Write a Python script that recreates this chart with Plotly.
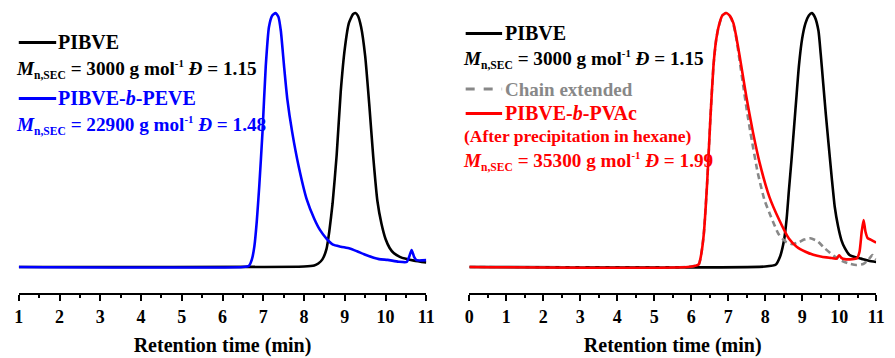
import plotly.graph_objects as go

# ---------------- data (normalised SEC traces) ----------------
# Left panel
left_black_t = [1.0, 8.0, 8.25, 8.35, 8.45, 8.55, 8.62, 8.70, 8.80, 8.90, 9.00, 9.10, 9.20, 9.26, 9.32, 9.40,
                9.50, 9.60, 9.70, 9.80, 9.90, 10.00, 10.10, 10.20, 10.35, 10.50, 10.70, 11.0]
left_black_h = [0.0, 0.002, 0.006, 0.014, 0.03, 0.07, 0.14, 0.25, 0.44, 0.69, 0.86, 0.96, 0.995, 1.0, 0.99, 0.945,
                0.83, 0.64, 0.43, 0.26, 0.17, 0.11, 0.075, 0.055, 0.04, 0.032, 0.025, 0.018]

left_blue_t = [1.0, 6.5, 6.65, 6.72, 6.78, 6.84, 6.90, 6.98, 7.06, 7.14, 7.22, 7.30, 7.37, 7.43, 7.51,
               7.59, 7.71, 7.87, 8.07, 8.25, 8.39, 8.55, 8.71, 8.90, 9.12, 9.30, 9.52, 9.84, 10.05,
               10.32, 10.52, 10.58, 10.64, 10.70, 10.76, 11.0]
left_blue_h = [0.0, 0.0, 0.005, 0.03, 0.08, 0.18, 0.316, 0.53, 0.79, 0.946, 0.99, 1.0, 0.985, 0.93, 0.79,
               0.66, 0.53, 0.395, 0.264, 0.19, 0.146, 0.112, 0.088, 0.08, 0.073, 0.062, 0.047, 0.031, 0.028,
               0.021, 0.02, 0.04, 0.067, 0.04, 0.027, 0.027]

# Right panel
right_black_t = [0.0, 8.0, 8.29, 8.40, 8.51, 8.58, 8.64, 8.71, 8.78, 8.85, 8.91, 9.00, 9.09, 9.18, 9.26,
                 9.34, 9.44, 9.50, 9.57, 9.64, 9.71, 9.80, 9.88, 9.97, 10.06, 10.15, 10.28, 10.45, 10.59,
                 10.80, 11.0]
right_black_h = [0.0, 0.002, 0.01, 0.04, 0.106, 0.19, 0.30, 0.42, 0.55, 0.68, 0.79, 0.9, 0.96, 0.99, 1.0,
                 0.985, 0.93, 0.84, 0.72, 0.6, 0.49, 0.35, 0.237, 0.16, 0.106, 0.075, 0.047, 0.038, 0.033,
                 0.025, 0.02]

right_gray_t = [0.0, 5.9, 6.20, 6.27, 6.34, 6.43, 6.52, 6.60, 6.67, 6.74, 6.84, 6.94, 7.04, 7.14, 7.22,
                7.31, 7.40, 7.50, 7.60, 7.80, 7.98, 8.15, 8.36, 8.55, 8.73, 8.90, 9.05, 9.22, 9.40, 9.60,
                9.88, 10.10, 10.30, 10.46, 10.65, 10.80, 10.90, 11.0]
right_gray_h = [0.0, 0.0, 0.01, 0.05, 0.13, 0.33, 0.59, 0.79, 0.89, 0.946, 0.99, 1.0, 0.99, 0.955, 0.9,
                0.81, 0.72, 0.62, 0.53, 0.37, 0.264, 0.2, 0.13, 0.1, 0.09, 0.097, 0.108, 0.113, 0.103, 0.075,
                0.041, 0.022, 0.012, 0.008, 0.012, 0.03, 0.047, 0.03]

right_red_t = [0.0, 5.9, 6.20, 6.27, 6.34, 6.43, 6.52, 6.60, 6.67, 6.74, 6.84, 6.94, 7.04, 7.14, 7.22,
               7.31, 7.40, 7.49, 7.67, 7.85, 8.11, 8.38, 8.64, 8.85, 9.09, 9.30, 9.53, 9.75, 9.93, 10.00,
               10.06, 10.15, 10.35, 10.48, 10.55, 10.61, 10.66, 10.71, 10.77, 10.85, 10.95, 11.0]
right_red_h = [0.0, 0.0, 0.01, 0.05, 0.13, 0.33, 0.59, 0.79, 0.89, 0.946, 0.99, 1.0, 0.99, 0.96, 0.905,
               0.83, 0.75, 0.67, 0.53, 0.41, 0.277, 0.185, 0.112, 0.08, 0.06, 0.048, 0.04, 0.036, 0.033, 0.046,
               0.036, 0.031, 0.031, 0.034, 0.06, 0.14, 0.185, 0.14, 0.114, 0.108, 0.10, 0.096]

left_ticks = list(range(1, 12))
right_ticks = list(range(0, 12))
x_title = "Retention time (min)"

# ---------------- layout helpers ----------------
W, H = 895, 358
TOP, BOTTOM = 5, 293  # plot area in px


def px(x):
    return x / W


def py(y):
    return 1 - (y - TOP) / (BOTTOM - TOP)


FONT = "Liberation Serif, Times New Roman, serif"

fig = go.Figure()
line_w = 2.6
SM = 0.5
fig.add_trace(go.Scatter(x=left_black_t, y=left_black_h, mode="lines", xaxis="x", yaxis="y",
                         line=dict(color="black", width=line_w, shape="spline", smoothing=SM)))
fig.add_trace(go.Scatter(x=left_blue_t, y=left_blue_h, mode="lines", xaxis="x", yaxis="y",
                         line=dict(color="#0000FF", width=line_w, shape="spline", smoothing=SM)))
fig.add_trace(go.Scatter(x=right_black_t, y=right_black_h, mode="lines", xaxis="x2", yaxis="y2",
                         line=dict(color="black", width=line_w, shape="spline", smoothing=SM)))
fig.add_trace(go.Scatter(x=right_gray_t, y=right_gray_h, mode="lines", xaxis="x2", yaxis="y2",
                         line=dict(color="#888888", width=line_w, dash="6px,4px", shape="spline", smoothing=SM)))
fig.add_trace(go.Scatter(x=right_red_t, y=right_red_h, mode="lines", xaxis="x2", yaxis="y2",
                         line=dict(color="#FF0000", width=line_w, shape="spline", smoothing=SM)))

ymin = -(BOTTOM - 267) / 254
ymax = 1 + (13 - TOP) / 254

axis_common = dict(
    showline=True, linecolor="black", linewidth=2, showgrid=False, zeroline=False,
    ticks="outside", ticklen=6, tickwidth=2, tickcolor="black",
    tickfont=dict(family=FONT, size=18, color="black", weight="bold"),
    minor=dict(dtick=0.5, ticks="outside", ticklen=3, tickwidth=2, tickcolor="black", showgrid=False),
    title=dict(text=x_title, font=dict(family=FONT, size=20, color="black", weight="bold"), standoff=12),
    dtick=1,
)

fig.update_layout(
    width=W, height=H,
    margin=dict(l=0, r=0, t=TOP, b=H - BOTTOM),
    paper_bgcolor="white", plot_bgcolor="white",
    font=dict(family=FONT),
    showlegend=False,
    xaxis=dict(domain=[px(14), px(428)], range=[1, 11], tickvals=left_ticks, anchor="y", **axis_common),
    yaxis=dict(domain=[0, 1], range=[ymin, ymax], visible=False),
    xaxis2=dict(domain=[px(471.7), px(885)], range=[0, 11], tickvals=right_ticks, anchor="y2", **axis_common),
    yaxis2=dict(domain=[0, 1], range=[ymin, ymax], visible=False, anchor="x2"),
)

# ---------------- legend-like annotations ----------------
def sample(x0, x1, y, color, dash="solid"):
    fig.add_shape(type="line", xref="paper", yref="paper", x0=px(x0), x1=px(x1), y0=py(y), y1=py(y),
                  line=dict(color=color, width=3, dash=dash))


def text(x, y, s, color, size=20):
    fig.add_annotation(xref="paper", yref="paper", x=px(x), y=py(y), text=s, showarrow=False,
                       xanchor="left", yanchor="middle", align="left", borderpad=0,
                       font=dict(family=FONT, size=size, color=color, weight="bold"))


MN = ("<i>M</i><sub><span style='font-size:86%'>n,SEC</span></sub> = {} g mol"
      "<sup><span style='font-size:80%'>-1</span></sup> <i>Đ</i> = {}")

# left panel
sample(14, 52, 42.5, "black")
text(53, 42, "PIBVE", "black")
text(10, 69, MN.format("3000", "1.15"), "black", size=19.2)
sample(14, 52, 98.5, "#0000FF")
text(53, 98, "PIBVE-<i>b</i>-PEVE", "#0000FF")
text(10, 125, MN.format("22900", "1.48"), "#0000FF", size=19.2)

# right panel
sample(468, 505, 33.5, "black")
text(507, 33, "PIBVE", "black")
text(464, 59, MN.format("3000", "1.15"), "black", size=19.2)
sample(468, 505, 89, "#888888", dash="dash")
text(507, 89, "Chain extended", "#888888", size=19)
sample(468, 505, 113.5, "#FF0000")
text(507, 113, "PIBVE-<i>b</i>-PVAc", "#FF0000")
text(465, 135.5, "(After precipitation in hexane)", "#FF0000", size=17.5)
text(464, 161, MN.format("35300", "1.99"), "#FF0000", size=19.2)

fig.write_html("out.html")
